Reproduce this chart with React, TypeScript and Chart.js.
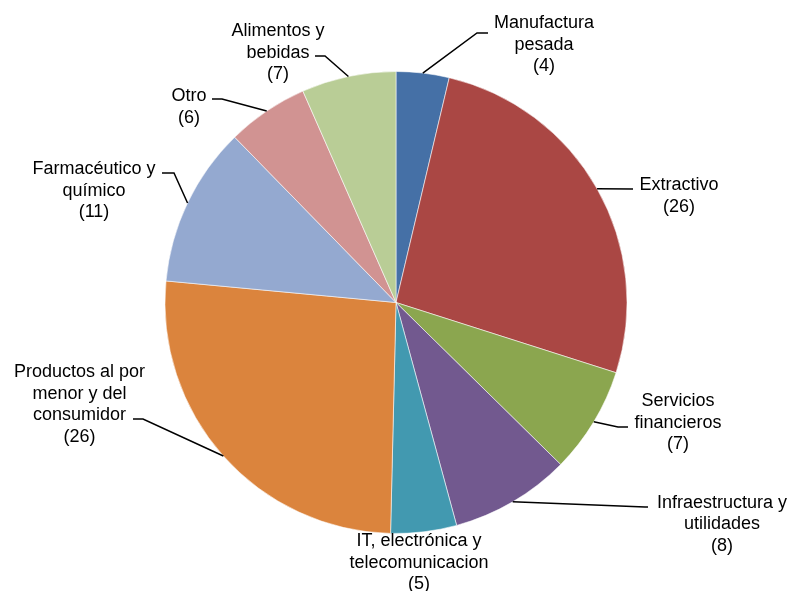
import React, { useEffect, useRef } from "react";
import { Chart, registerables } from "chart.js";

Chart.register(...registerables);

const categories: string[][] = [
  ["Manufactura", "pesada"],
  ["Extractivo"],
  ["Servicios", "financieros"],
  ["Infraestructura y", "utilidades"],
  ["IT, electrónica y", "telecomunicacion"],
  ["Productos al por", "menor y del", "consumidor"],
  ["Farmacéutico y", "químico"],
  ["Otro"],
  ["Alimentos y", "bebidas"],
];
// slice shares
const values: number[] = [3.7, 26.2, 7.45, 8.4, 4.6, 26.1, 11.2, 5.7, 6.6];
// numbers shown in the labels
const labelValues: number[] = [4, 26, 7, 8, 5, 26, 11, 6, 7];
const colors: string[] = [
  "#4570A6",
  "#AA4744",
  "#8BA64F",
  "#72598F",
  "#4299B0",
  "#DB843D",
  "#94A9D0",
  "#D19392",
  "#B9CD96",
];

// label layout: text centre x, first line middle y, leader bend points
type LabelLayout = { cx: number; y: number; pts: number[][] };
const labelLayout: LabelLayout[] = [
  { cx: 544, y: 22, pts: [[477, 33], [488, 33]] },
  { cx: 679, y: 184, pts: [[633, 189]] },
  { cx: 678, y: 400, pts: [[618, 427], [628, 427]] },
  { cx: 722, y: 501.5, pts: [[645, 507], [648, 507]] },
  { cx: 419, y: 540, pts: [] },
  { cx: 79.5, y: 371, pts: [[143, 419], [133, 419]] },
  { cx: 94, y: 168, pts: [[174, 173], [162, 173]] },
  { cx: 189, y: 95, pts: [[222, 99], [212, 99]] },
  { cx: 278, y: 30, pts: [[325, 56], [315, 56]] },
];

const FONT_SIZE = 18;
const LINE_H = 21.4;

const labelsPlugin = {
  id: "outerLabels",
  afterDraw(chart: any) {
    const ctx = chart.ctx as CanvasRenderingContext2D;
    const meta = chart.getDatasetMeta(0);
    ctx.save();
    meta.data.forEach((el: any, i: number) => {
      const p = el.getProps(["x", "y", "startAngle", "endAngle", "outerRadius"], true);
      const L = labelLayout[i];
      const ang = (p.startAngle + p.endAngle) / 2;
      const ax = p.x + Math.cos(ang) * p.outerRadius;
      const ay = p.y + Math.sin(ang) * p.outerRadius;
      if (L.pts.length) {
        ctx.beginPath();
        ctx.moveTo(ax, ay);
        L.pts.forEach(([x, y]) => ctx.lineTo(x, y));
        ctx.strokeStyle = "#000";
        ctx.lineWidth = 1.5;
        ctx.stroke();
      }
      const lines = [...categories[i], `(${labelValues[i]})`];
      ctx.fillStyle = "#000";
      ctx.font = `${FONT_SIZE}px "Liberation Sans", Arial, sans-serif`;
      ctx.textAlign = "center";
      ctx.textBaseline = "alphabetic";
      lines.forEach((t, k) => {
        ctx.fillText(t, L.cx, L.y + k * LINE_H + (FONT_SIZE * 0.716) / 2);
      });
    });
    ctx.restore();
  },
};

export default function App() {
  const ref = useRef<HTMLCanvasElement | null>(null);
  useEffect(() => {
    if (!ref.current) return;
    const chart = new Chart(ref.current, {
      type: "pie",
      data: {
        labels: categories.map((c) => c.join(" ")),
        datasets: [
          {
            data: values,
            backgroundColor: colors,
            borderColor: "rgba(255,255,255,0.55)",
            borderWidth: 1,
          },
        ],
      },
      options: {
        animation: false,
        responsive: false,
        maintainAspectRatio: false,
        layout: { padding: { left: 164, right: 164, top: 71, bottom: 57 } },
        plugins: {
          legend: { display: false },
          tooltip: { enabled: false },
        },
      },
      plugins: [labelsPlugin],
    });
    return () => chart.destroy();
  }, []);
  return (
    <div style={{ position: "fixed", left: 0, top: 0, width: 792, height: 591, background: "#fff" }}>
      <canvas ref={ref} width={792} height={591} style={{ width: 792, height: 591, display: "block" }} />
    </div>
  );
}
